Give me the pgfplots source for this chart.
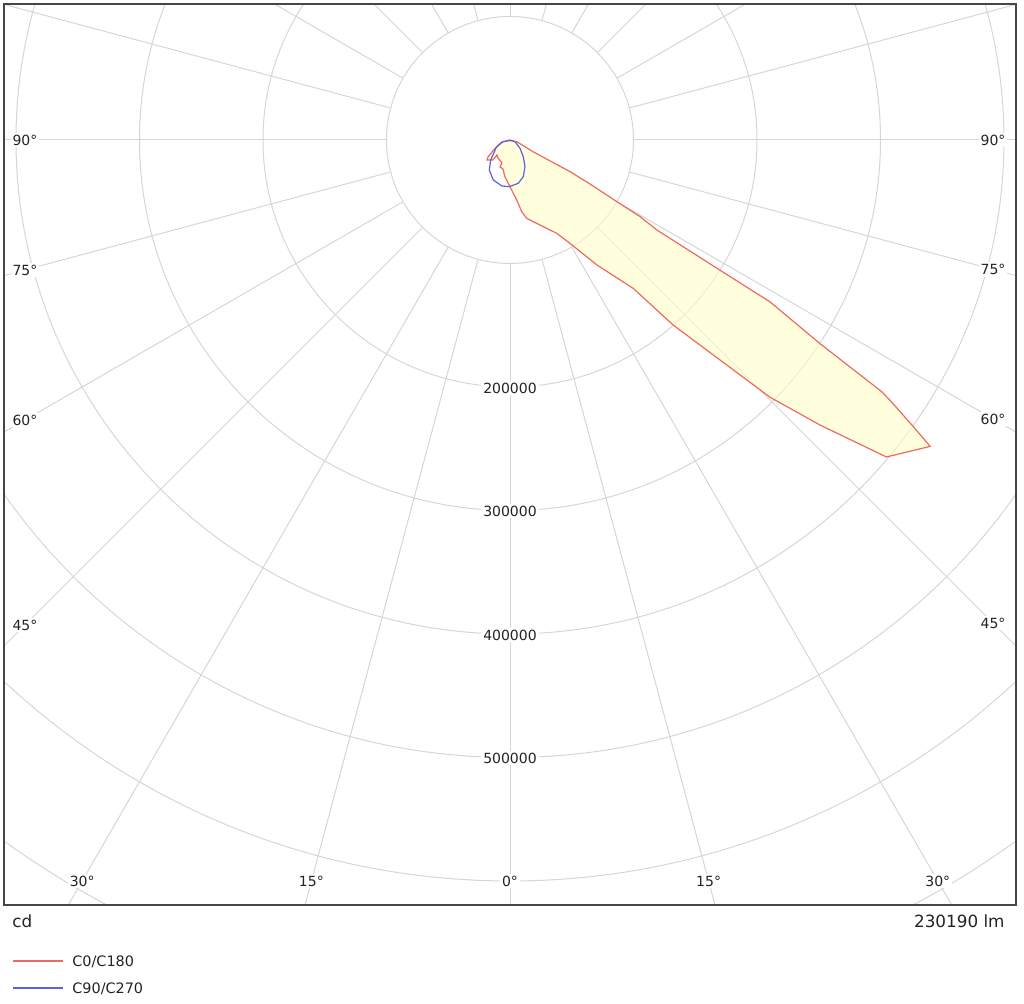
\documentclass[border=0pt]{standalone}
\usepackage{pgfplots}
\pgfplotsset{compat=1.18}
\usepackage{fontspec}
\setmainfont{DejaVu Sans}
\definecolor{gridc}{RGB}{214,214,214}
\definecolor{framec}{RGB}{70,70,70}
\definecolor{txtc}{RGB}{35,35,35}
\definecolor{cred}{RGB}{238,105,95}
\definecolor{cblue}{RGB}{95,95,220}
\definecolor{cfill}{RGB}{255,255,200}
\begin{document}
\begin{tikzpicture}
\useasboundingbox (0,0) rectangle (512pt,502pt);
% grid and labels, pixel coordinates (y downwards)
\begin{scope}[shift={(0pt,502pt)},x=0.5pt,y=-0.5pt]
  \begin{scope}
    \clip (4,4) rectangle (1016,905);
    \foreach \k in {1,...,7}{\draw[gridc,line width=0.5pt] (510,140) circle [radius={123.5*\k}];}
    \foreach \a in {0,15,...,345}{\draw[gridc,line width=0.5pt] (510,140) ++(\a:123.5) -- ++(\a:1000);}
  \end{scope}
  \tikzset{lab/.style={fill=white,inner sep=1pt,text=txtc,font=\fontsize{7}{8}\selectfont}}
  \node[lab] at (510,388) {200000};
  \node[lab] at (510,511) {300000};
  \node[lab] at (510,635) {400000};
  \node[lab] at (510,758) {500000};
  \node[lab] at (510,881) {0°};
  \node[lab] at (311.4,881) {15°};
  \node[lab] at (708.6,881) {15°};
  \node[lab] at (82.2,881) {30°};
  \node[lab] at (937.8,881) {30°};
  \node[lab] at (25,140) {90°};
  \node[lab] at (25,270) {75°};
  \node[lab] at (25,420) {60°};
  \node[lab] at (25,625) {45°};
  \node[lab] at (993,140) {90°};
  \node[lab] at (993,269.5) {75°};
  \node[lab] at (993,419) {60°};
  \node[lab] at (993,623) {45°};
  \node[anchor=west,inner sep=0pt,text=txtc,font=\fontsize{8.4}{9}\selectfont] at (12,921) {cd};
  \node[anchor=east,inner sep=0pt,text=txtc,font=\fontsize{8.4}{9}\selectfont] at (1005,921) {230190 lm};
  \draw[cred,line width=0.6pt] (13,961) -- (63,961);
  \node[anchor=west,inner sep=0pt,text=txtc,font=\fontsize{7.2}{8}\selectfont] at (72,962) {C0/C180};
  \draw[cblue,line width=0.6pt] (13,988) -- (63,988);
  \node[anchor=west,inner sep=0pt,text=txtc,font=\fontsize{7.2}{8}\selectfont] at (72,989) {C90/C270};
\end{scope}
\begin{axis}[at={(2pt,49.5pt)},anchor=south west,
  width=506pt,height=450.5pt,scale only axis,
  xmin=-409717,xmax=409717,ymin=-619433,ymax=110121,
  xtick=\empty,ytick=\empty,scaled ticks=false,
  axis line style={draw=framec,line width=1pt},
  no markers]
\addplot[draw=cred,line width=0.6pt,fill=cfill,fill opacity=0.6,data cs=polar] coordinates {
(270,570) (345.8,5600) (335.9,13300) (333.0,20900) (332.2,54900) (331.2,73900)
(330.0,99800) (329.5,122200) (328.5,139400) (328.2,200000) (328.1,247900)
(326.7,300200) (325.9,363500) (325.6,372800) (324.6,400700) (323.9,421100)
(319.9,398500) (317.4,341000) (315.3,296000) (311.4,199800) (309.7,156200)
(308.2,144200) (304.8,123200) (300.1,96700) (296.6,84500) (289.4,73000)
(282.0,64800) (279.3,58800) (276.4,48900) (270.0,37800) (262.3,30200)
(256.4,24200) (249.7,23300) (250.8,19700) (236.3,17500) (229.1,16100)
(229.6,21300) (221.0,24700) (217.7,22500) (209.0,13900) (194.2,5600) (270,570)
};
\addplot[draw=cblue,line width=0.6pt,data cs=polar] coordinates {
(90,0) (341.2,4300) (320.3,10500) (308.5,17300) (299.3,24800) (289.9,31600)
(280.9,35700) (269.1,37800) (259.8,37800) (247.3,35100) (235.4,29500)
(226.0,22500) (206.7,12100) (194.0,6700) (90,0)
};
\end{axis}
\end{tikzpicture}
\end{document}
